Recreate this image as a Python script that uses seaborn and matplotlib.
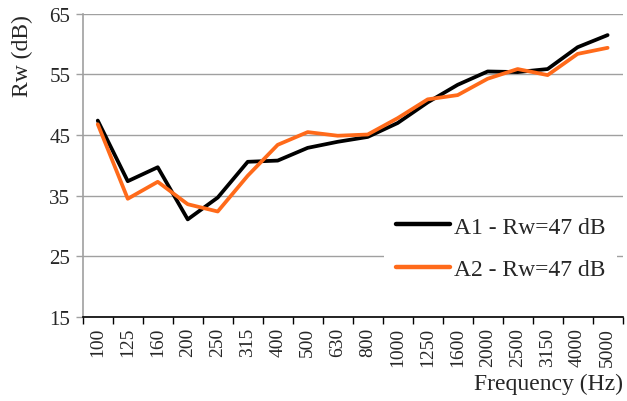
import matplotlib
matplotlib.use("Agg")
import matplotlib.pyplot as plt
import pandas as pd
import seaborn as sns
from matplotlib.ticker import FixedLocator

# Data
freqs = ['100', '125', '160', '200', '250', '315', '400', '500', '630', '800',
         '1000', '1250', '1600', '2000', '2500', '3150', '4000', '5000']
a1 = [47.4, 37.4, 39.7, 31.1, 34.7, 40.6, 40.8, 42.9, 43.9, 44.7,
      47.0, 50.4, 53.3, 55.5, 55.4, 55.9, 59.5, 61.5]
a2 = [46.8, 34.5, 37.3, 33.6, 32.4, 38.3, 43.4, 45.5, 44.9, 45.1,
      47.8, 50.9, 51.6, 54.3, 55.9, 54.9, 58.4, 59.4]
labels = ['A1 - Rw=47 dB', 'A2 - Rw=47 dB']
colors = ['#000000', '#FF6A1A']
yticks = [15, 25, 35, 45, 55, 65]

df = pd.DataFrame({
    'freq': freqs * 2,
    'rw': a1 + a2,
    'series': [labels[0]] * len(freqs) + [labels[1]] * len(freqs),
})

sns.set_style('white')
plt.rcParams['font.family'] = ['Liberation Serif', 'DejaVu Serif']

fig = plt.figure(figsize=(6.27, 4.02), dpi=100)
ax = fig.add_axes([0.132, 0.209, 0.861, 0.754])

sns.lineplot(data=df, x='freq', y='rw', hue='series', palette=colors,
             sort=False, linewidth=2.7, ax=ax)

ax.set_xlim(-0.5, len(freqs) - 0.5)
ax.set_ylim(15, 65)
ax.set_yticks(yticks)
ax.yaxis.grid(True, color='#A0A0A0', linewidth=1.0)
ax.set_axisbelow(True)

# category ticks: labels centered, marks on the boundaries
ax.set_xticks(range(len(freqs)))
ax.set_xticklabels(freqs, rotation=90, fontsize=14)
ax.xaxis.set_minor_locator(FixedLocator([i - 0.5 for i in range(len(freqs) + 1)]))
ax.tick_params(axis='x', which='major', length=0, pad=7)
ax.tick_params(axis='x', which='minor', length=5, width=1, color='black', direction='out', bottom=True)
ax.tick_params(axis='y', length=5, width=1, color='#A0A0A0', direction='out', left=True, labelsize=15, pad=4)

for s in ['top', 'right']:
    ax.spines[s].set_visible(False)
ax.spines['left'].set_color('#A0A0A0')
ax.spines['left'].set_linewidth(1.2)
ax.spines['bottom'].set_color('black')
ax.spines['bottom'].set_linewidth(1.2)

ax.set_xlabel('Frequency (Hz)', loc='right', fontsize=17, labelpad=5)
ax.set_ylabel('Rw (dB)', loc='top', fontsize=17, labelpad=12)

leg = ax.legend(loc='upper left', bbox_to_anchor=(0.558, 0.372), fontsize=17,
                frameon=True, framealpha=1, facecolor='white', edgecolor='none',
                fancybox=False, handlelength=2.3, handletextpad=0.15,
                labelspacing=0.9, borderpad=0.5, borderaxespad=0)
for line in leg.get_lines():
    line.set_linewidth(3.2)

fig.savefig('out.png', dpi=100)
